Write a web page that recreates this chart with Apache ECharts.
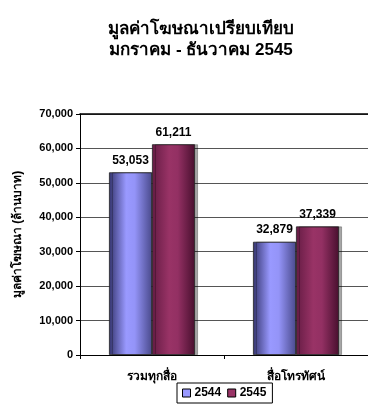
<!DOCTYPE html>
<html><head><meta charset="utf-8">
<script src="https://cdn.jsdelivr.net/npm/echarts@6/dist/echarts.min.js"></script>
<style>html,body{margin:0;padding:0;background:#fff}#c{width:368px;height:406px}</style>
</head><body><div id="c"></div>
<script>
const categories = ['รวมทุกสื่อ', 'สื่อโทรทัศน์'];
const series2544 = [53053, 32879];
const series2545 = [61211, 37339];
const seriesNames = ['2544', '2545'];
const yTicks = [0, 10000, 20000, 30000, 40000, 50000, 60000, 70000];

const FONT = '"Liberation Sans", Arial, sans-serif';
const chart = echarts.init(document.getElementById('c'), null, {renderer: 'canvas'});
const fmt = v => v.toLocaleString('en-US');

function grad(stops) {
  return new echarts.graphic.LinearGradient(0, 0, 1, 0, stops.map((c, i) => ({offset: c[0], color: c[1]})));
}
const blueGrad = grad([[0, '#34346e'], [0.4, '#9999ff'], [0.6, '#9494f8'], [1, '#4a4a8c']]);
const redGrad = grad([[0, '#651c44'], [0.4, '#993366'], [0.6, '#933063'], [1, '#480f2e']]);

const labelStyle = {
  show: true, position: 'top', distance: 6,
  formatter: p => fmt(p.value),
  fontFamily: FONT, fontWeight: 'bold', fontSize: 12, color: '#000'
};

chart.setOption({
  animation: false,
  title: {
    text: 'มูลค่าโฆษณาเปรียบเทียบ\nมกราคม - ธันวาคม 2545',
    left: 196, top: 14, textAlign: 'center',
    textStyle: {fontFamily: FONT, fontWeight: 'bold', fontSize: 17, lineHeight: 21, color: '#000'}
  },
  legend: {
    data: [
      {name: seriesNames[0], itemStyle: {color: '#9999ff', borderColor: '#000', borderWidth: 1}},
      {name: seriesNames[1], itemStyle: {color: '#993366', borderColor: '#000', borderWidth: 1}}
    ],
    left: 177, top: 383, itemWidth: 8, itemHeight: 8, itemGap: 6,
    borderColor: '#000', borderWidth: 1, padding: [4, 6, 4, 5],
    icon: 'rect',
    textStyle: {fontFamily: FONT, fontWeight: 'bold', fontSize: 12, color: '#000', padding: [0, 0, 0, -1]}
  },
  grid: {left: 80, top: 114, width: 296, height: 241},
  xAxis: [{
    type: 'category', data: categories,
    axisLine: {lineStyle: {color: '#000', width: 1}},
    axisTick: {show: true, length: 4, lineStyle: {color: '#000'}},
    axisLabel: {fontFamily: FONT, fontWeight: 'bold', fontSize: 12, color: '#000', margin: 16}
  }, {
    type: 'category', data: categories, position: 'top',
    axisLine: {show: true, lineStyle: {color: '#000', width: 1.5}},
    axisTick: {show: false}, axisLabel: {show: false}
  }],
  yAxis: {
    type: 'value', min: yTicks[0], max: yTicks[yTicks.length - 1], interval: 10000,
    name: 'มูลค่าโฆษณา (ล้านบาท)', nameLocation: 'middle', nameGap: 56, nameRotate: 90,
    nameTextStyle: {fontFamily: FONT, fontWeight: 'bold', fontSize: 12, color: '#000'},
    axisLine: {show: true, lineStyle: {color: '#000'}},
    axisTick: {show: true, length: 4, lineStyle: {color: '#000'}},
    axisLabel: {formatter: v => fmt(v), fontFamily: FONT, fontWeight: 'bold', fontSize: 11, color: '#000', margin: 7},
    splitLine: {lineStyle: {color: '#555', width: 1}}
  },
  series: [{
    name: seriesNames[0], type: 'bar', data: series2544,
    barWidth: 43, barGap: '0%',
    itemStyle: {color: blueGrad, borderColor: '#222', borderWidth: 0.8,
      shadowColor: 'rgba(0,0,0,0.35)', shadowOffsetX: 3, shadowOffsetY: 0, shadowBlur: 0},
    label: labelStyle
  }, {
    name: seriesNames[1], type: 'bar', data: series2545,
    barWidth: 43, barGap: '0%',
    itemStyle: {color: redGrad, borderColor: '#222', borderWidth: 0.8,
      shadowColor: 'rgba(0,0,0,0.35)', shadowOffsetX: 3, shadowOffsetY: 0, shadowBlur: 0},
    label: labelStyle
  }]
});
</script></body></html>
